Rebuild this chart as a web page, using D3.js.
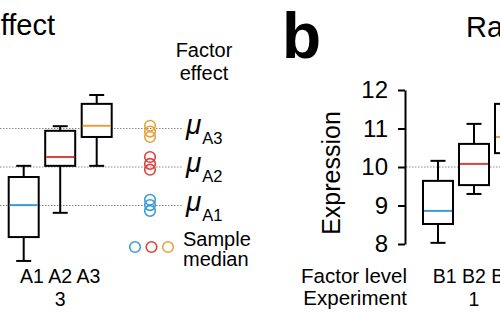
<!DOCTYPE html>
<html>
<head>
<meta charset="utf-8">
<script src="https://cdn.jsdelivr.net/npm/d3@7"></script>
<style>
  body { margin: 0; background: #fff; }
  svg { display: block; font-family: "Liberation Sans", Arial, Helvetica, sans-serif; }
</style>
</head>
<body>
<div id="chart"></div>
<script>
// Panel a (experiment 3) box statistics
const levelsA = ["A1", "A2", "A3"];
const lowA = [7.56, 8.81, 10.03];
const q1A = [8.18, 10.03, 10.78];
const medA = [9.01, 10.26, 11.07];
const q3A = [9.74, 10.94, 11.64];
const highA = [10.03, 11.06, 11.87];
const experimentA = "3";

// Panel b (experiment 1) box statistics
const levelsB = ["B1", "B2", "B3"];
const lowB = [8.03, 9.30, 9.90];
const q1B = [8.52, 9.53, 10.36];
const medB = [8.86, 10.08, 10.78];
const q3B = [9.64, 10.60, 11.64];
const highB = [10.16, 11.12, 11.90];
const experimentB = "1";

// Factor effects (population means) and sample medians of the three experiments
const effectNames = ["A3", "A2", "A1"];
const effectValues = [11, 10, 9];
const sampleMedA1 = [8.86, 9.15, 9.01];
const sampleMedA2 = [10.08, 9.93, 10.26];
const sampleMedA3 = [10.78, 10.92, 11.07];

const yTicks = [8, 9, 10, 11, 12];
const levelColors = ["#3b9bd9", "#e0403a", "#e9a23b"];

const width = 500, height = 319;

const svg = d3.select("#chart").append("svg")
  .attr("width", width)
  .attr("height", height);

// Shared expression scale
const y = d3.scaleLinear().domain([8, 12]).range([244, 90]);

const xA = d3.scalePoint().domain(levelsA).range([23.7, 96.7]);
const xB = d3.scalePoint().domain(levelsB).range([438, 510]);

const boxW = 30, capW = 15;

// Dotted reference lines at the factor effects
svg.selectAll(".ref")
  .data(effectValues)
  .enter()
  .append("line")
  .attr("x1", 0)
  .attr("x2", 182)
  .attr("y1", d => y(d))
  .attr("y2", d => y(d))
  .attr("stroke", "#8a8a8a")
  .attr("stroke-width", 1)
  .attr("stroke-dasharray", "1.5,1.5");

svg.append("line")
  .attr("x1", 406)
  .attr("x2", width)
  .attr("y1", y(10))
  .attr("y2", y(10))
  .attr("stroke", "#8a8a8a")
  .attr("stroke-width", 1)
  .attr("stroke-dasharray", "1.5,1.5");

function drawBoxes(levels, x, low, q1, med, q3, high) {
  const data = levels.map((l, i) => ({
    level: l, low: low[i], q1: q1[i], med: med[i], q3: q3[i], high: high[i], color: levelColors[i]
  }));

  const g = svg.append("g");
  const box = g.selectAll(".box")
    .data(data)
    .enter()
    .append("g");

  // whisker stems
  box.append("line")
    .attr("x1", d => x(d.level))
    .attr("x2", d => x(d.level))
    .attr("y1", d => y(d.low))
    .attr("y2", d => y(d.high))
    .attr("stroke", "#000")
    .attr("stroke-width", 2);

  // whisker caps
  box.selectAll(".cap")
    .data(d => [d.low, d.high].map(v => ({ v, level: d.level })))
    .enter()
    .append("line")
    .attr("x1", d => x(d.level) - capW / 2)
    .attr("x2", d => x(d.level) + capW / 2)
    .attr("y1", d => y(d.v))
    .attr("y2", d => y(d.v))
    .attr("stroke", "#000")
    .attr("stroke-width", 2);

  box.append("rect")
    .attr("x", d => x(d.level) - boxW / 2)
    .attr("width", boxW)
    .attr("y", d => y(d.q3))
    .attr("height", d => y(d.q1) - y(d.q3))
    .attr("fill", "#fff")
    .attr("stroke", "#000")
    .attr("stroke-width", 2);

  box.append("line")
    .attr("x1", d => x(d.level) - boxW / 2 + 1)
    .attr("x2", d => x(d.level) + boxW / 2 - 1)
    .attr("y1", d => y(d.med))
    .attr("y2", d => y(d.med))
    .attr("stroke", d => d.color)
    .attr("stroke-width", 2);
}

drawBoxes(levelsA, xA, lowA, q1A, medA, q3A, highA);
drawBoxes(levelsB, xB, lowB, q1B, medB, q3B, highB);

// Sample medians of each level, stacked in the factor effect column
const medianSets = [sampleMedA1, sampleMedA2, sampleMedA3];
medianSets.forEach((set, i) => {
  svg.selectAll(null)
    .data(set)
    .enter()
    .append("circle")
    .attr("cx", 150)
    .attr("cy", d => y(d))
    .attr("r", 5.3)
    .attr("fill", "none")
    .attr("stroke", levelColors[i])
    .attr("stroke-width", 1.6);
});

// mu labels
const mu = svg.selectAll(".mu")
  .data(effectNames.map((n, i) => ({ name: n, value: effectValues[i] })))
  .enter()
  .append("text")
  .attr("x", 186)
  .attr("y", d => y(d.value) + 5)
  .style("font-size", "28px")
  .style("fill", "#000");
mu.append("tspan")
  .style("font-style", "italic")
  .text("\u03bc");
mu.append("tspan")
  .attr("dy", 10)
  .attr("dx", 1)
  .style("font-size", "16.5px")
  .text(d => d.name);

// Column header
svg.append("text")
  .attr("x", 204)
  .attr("y", 57)
  .attr("text-anchor", "middle")
  .style("font-size", "20px")
  .style("fill", "#000")
  .text("Factor");
svg.append("text")
  .attr("x", 204)
  .attr("y", 80)
  .attr("text-anchor", "middle")
  .style("font-size", "20px")
  .style("fill", "#000")
  .text("effect");

// Legend: sample median
svg.selectAll(".leg")
  .data(levelColors)
  .enter()
  .append("circle")
  .attr("cx", (d, i) => 135 + i * 16.5)
  .attr("cy", 247)
  .attr("r", 5.3)
  .attr("fill", "none")
  .attr("stroke", d => d)
  .attr("stroke-width", 1.6);
svg.append("text")
  .attr("x", 183)
  .attr("y", 246)
  .style("font-size", "20px")
  .style("fill", "#000")
  .text("Sample");
svg.append("text")
  .attr("x", 183)
  .attr("y", 266)
  .style("font-size", "20px")
  .style("fill", "#000")
  .text("median");

// Panel titles
svg.append("text")
  .attr("x", 55)
  .attr("y", 35)
  .attr("text-anchor", "end")
  .style("font-size", "29px")
  .style("fill", "#000")
  .text("Effect");
svg.append("text")
  .attr("x", 282)
  .attr("y", 58)
  .style("font-size", "64px")
  .style("font-weight", "bold")
  .style("fill", "#000")
  .text("b");
svg.append("text")
  .attr("x", 466)
  .attr("y", 37)
  .style("font-size", "29px")
  .style("fill", "#000")
  .text("Raw data");

// Y axis for panel b
const axis = svg.append("g")
  .attr("transform", "translate(405,0)")
  .call(d3.axisLeft(y).tickValues(yTicks).tickSize(7).tickSizeOuter(0).tickPadding(10).tickFormat(d3.format("d")));
axis.select(".domain").attr("stroke-width", 2);
axis.selectAll(".tick line").attr("stroke-width", 2);
axis.selectAll("text")
  .style("font-family", "'Liberation Sans', Arial, sans-serif")
  .style("font-size", "24px")
  .style("fill", "#000");

svg.append("text")
  .attr("transform", `translate(340, ${(y(12) + y(8)) / 2 + 6}) rotate(-90)`)
  .attr("text-anchor", "middle")
  .style("font-size", "25px")
  .style("fill", "#000")
  .text("Expression");

// Category labels
svg.append("text")
  .attr("x", 407)
  .attr("y", 283)
  .attr("text-anchor", "end")
  .style("font-size", "20.5px")
  .style("fill", "#000")
  .text("Factor level");
svg.append("text")
  .attr("x", 407)
  .attr("y", 305)
  .attr("text-anchor", "end")
  .style("font-size", "20.5px")
  .style("fill", "#000")
  .text("Experiment");

[[levelsA, xA, experimentA], [levelsB, xB, experimentB]].forEach(([levels, x, exp]) => {
  const mid = x(levels[1]);
  svg.append("text")
    .attr("x", mid)
    .attr("y", 283)
    .attr("text-anchor", "middle")
    .style("font-size", "19.5px")
    .style("fill", "#000")
    .text(levels.join(" "));
  svg.append("text")
    .attr("x", mid)
    .attr("y", 306)
    .attr("text-anchor", "middle")
    .style("font-size", "19.5px")
    .style("fill", "#000")
    .text(exp);
});
</script>
</body>
</html>
